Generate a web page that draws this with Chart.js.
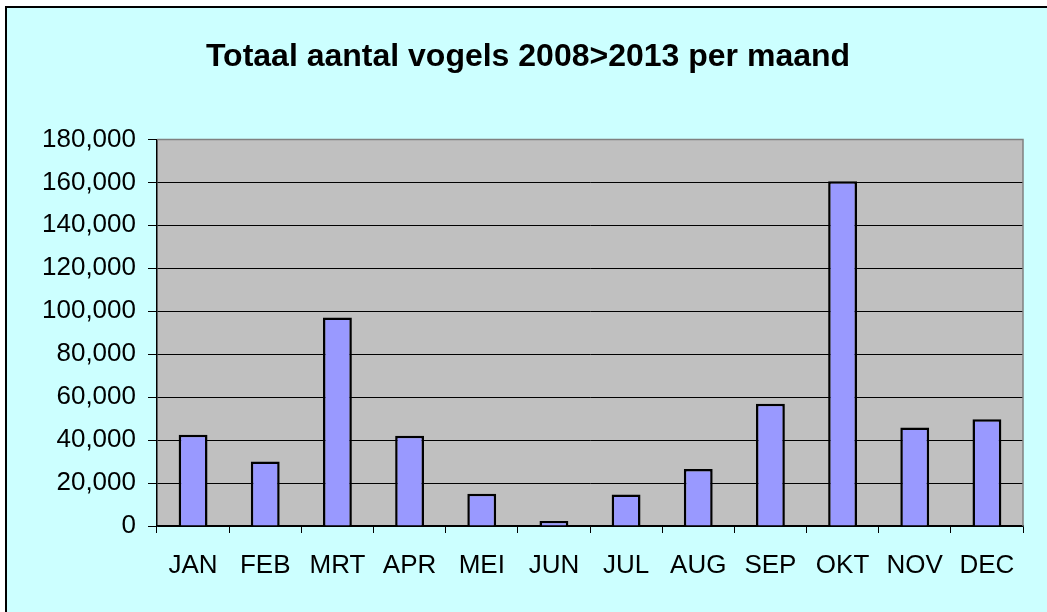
<!DOCTYPE html>
<html>
<head>
<meta charset="utf-8">
<script src="https://cdn.jsdelivr.net/npm/chart.js@4/dist/chart.umd.min.js"></script>
<style>
    body { margin: 0; background: #fff; }
    canvas { display: block; }
</style>
</head>
<body>
<canvas id="vogelChart" width="1047" height="612"></canvas>
<script>
// Data
const maanden = ['JAN', 'FEB', 'MRT', 'APR', 'MEI', 'JUN', 'JUL', 'AUG', 'SEP', 'OKT', 'NOV', 'DEC'];
const aantallen = [42500, 30000, 97100, 42000, 15000, 2300, 14700, 26500, 56900, 160500, 45900, 49700];
const yMax = 180000;
const yStep = 20000;

// Cyan chart background with black top/left edge, grey plot area
const achtergrond = {
    id: 'achtergrond',
    beforeDraw(chart) {
        const ctx = chart.ctx;
        const area = chart.chartArea;
        ctx.save();
        ctx.fillStyle = '#ffffff';
        ctx.fillRect(0, 0, chart.width, chart.height);
        ctx.fillStyle = '#000000';
        ctx.fillRect(5, 6, chart.width, chart.height);
        ctx.fillStyle = '#ccffff';
        ctx.fillRect(7, 8, chart.width, chart.height);
        ctx.fillStyle = '#c0c0c0';
        ctx.fillRect(area.left, area.top, area.right - area.left, area.bottom - area.top);
        ctx.restore();
    },
    afterDatasetsDraw(chart) {
        const ctx = chart.ctx;
        const area = chart.chartArea;
        ctx.save();
        ctx.strokeStyle = '#808080';
        ctx.lineWidth = 1.5;
        ctx.beginPath();
        ctx.moveTo(area.left, area.top);
        ctx.lineTo(area.right, area.top);
        ctx.lineTo(area.right, area.bottom);
        ctx.stroke();
        ctx.restore();
    }
};

new Chart(document.getElementById('vogelChart').getContext('2d'), {
    type: 'bar',
    data: {
        labels: maanden,
        datasets: [{
            data: aantallen,
            backgroundColor: '#9999ff',
            borderColor: '#000000',
            borderWidth: 2.5,
            borderSkipped: 'start',
            barPercentage: 0.4,
            categoryPercentage: 1
        }]
    },
    options: {
        responsive: false,
        animation: false,
        layout: {
            padding: { left: 33, right: 24, top: 6, bottom: 0 }
        },
        plugins: {
            legend: { display: false },
            tooltip: { enabled: false },
            title: {
                display: true,
                text: 'Totaal aantal vogels 2008>2013 per maand',
                color: '#000000',
                font: { family: 'Liberation Sans', size: 32, weight: 'bold' },
                padding: { top: 32, bottom: 63 }
            }
        },
        scales: {
            x: {
                afterFit(scale) { scale.height = 86; },
                grid: {
                    drawOnChartArea: false,
                    drawTicks: true,
                    tickLength: 7,
                    tickColor: '#000000'
                },
                border: { color: '#000000', width: 1.5 },
                ticks: {
                    color: '#000000',
                    padding: 17,
                    font: { family: 'Liberation Sans', size: 26 }
                }
            },
            y: {
                min: 0,
                max: yMax,
                afterFit(scale) { scale.width = 124; },
                grid: {
                    color: ctx => ctx.tick && ctx.tick.value === yMax ? '#808080' : '#000000',
                    lineWidth: 1,
                    tickLength: 9,
                    tickColor: '#000000'
                },
                border: { color: '#000000', width: 1.5 },
                ticks: {
                    stepSize: yStep,
                    color: '#000000',
                    padding: 12,
                    font: { family: 'Liberation Sans', size: 26 },
                    callback: value => value.toLocaleString('en-US')
                }
            }
        }
    },
    plugins: [achtergrond]
});
</script>
</body>
</html>
